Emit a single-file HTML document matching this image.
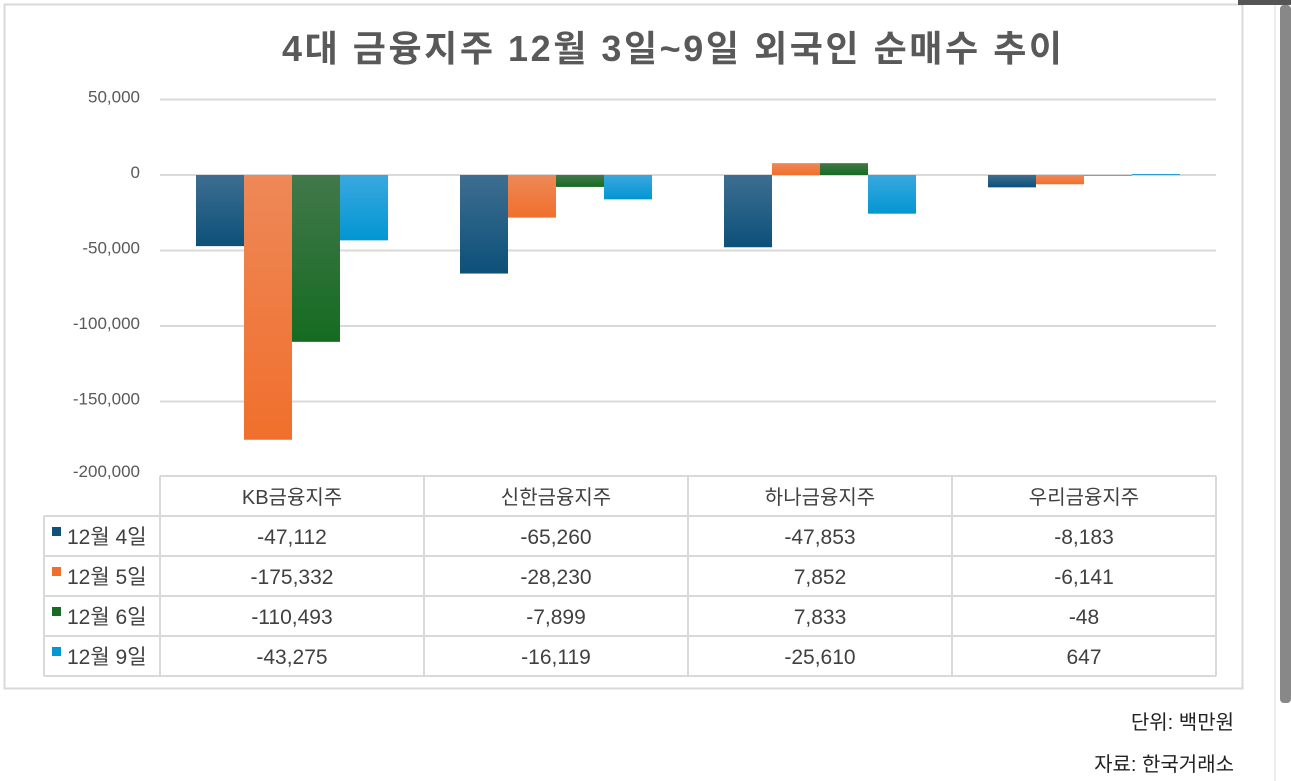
<!DOCTYPE html>
<html><head><meta charset="utf-8"><style>
html,body{margin:0;padding:0;background:#fff;width:1291px;height:781px;overflow:hidden;font-family:"Liberation Sans","Noto Sans CJK KR",sans-serif;}
</style></head><body>
<svg width="1291" height="781" xmlns="http://www.w3.org/2000/svg" style="position:absolute;left:0;top:0">
<defs>
<linearGradient id="g0" x1="0" y1="0" x2="0" y2="1"><stop offset="0" stop-color="#3d6e90"/><stop offset="1" stop-color="#0d5079"/></linearGradient>
<linearGradient id="g1" x1="0" y1="0" x2="0" y2="1"><stop offset="0" stop-color="#ee8858"/><stop offset="1" stop-color="#f06f2c"/></linearGradient>
<linearGradient id="g2" x1="0" y1="0" x2="0" y2="1"><stop offset="0" stop-color="#42784a"/><stop offset="1" stop-color="#156b22"/></linearGradient>
<linearGradient id="g3" x1="0" y1="0" x2="0" y2="1"><stop offset="0" stop-color="#3aa8df"/><stop offset="1" stop-color="#0296d2"/></linearGradient>
</defs>
<rect x="4.5" y="4.5" width="1238" height="684" fill="#fff" stroke="#d9d9d9" stroke-width="2"/>
<rect x="1238" y="0" width="53" height="5" fill="#555"/>
<line x1="1275" y1="5" x2="1275" y2="781" stroke="#ddd" stroke-width="1"/>
<rect x="1280" y="5" width="11" height="698" rx="4" fill="#888"/>
<text x="672" y="61" text-anchor="middle" font-size="36" font-weight="bold" fill="#595959" textLength="780" lengthAdjust="spacing">4대 금융지주 12월 3일~9일 외국인 순매수 추이</text>
<g id="grid"></g><g id="bars"></g><g id="table"></g>
<text x="1234" y="729" text-anchor="end" font-size="20" fill="#222">단위: 백만원</text>
<text x="1234" y="771" text-anchor="end" font-size="20" fill="#222">자료: 한국거래소</text>
</svg>
<script>
const categories=["KB금융지주","신한금융지주","하나금융지주","우리금융지주"];
const seriesNames=["12월 4일","12월 5일","12월 6일","12월 9일"];
const s4=[-47112,-65260,-47853,-8183];
const s5=[-175332,-28230,7852,-6141];
const s6=[-110493,-7899,7833,-48];
const s9=[-43275,-16119,-25610,647];
const yTicks=[50000,0,-50000,-100000,-150000,-200000];
const series=[s4,s5,s6,s9];
const colors=["#0d5079","#f06f2c","#156b22","#0296d2"];
const NS="http://www.w3.org/2000/svg";
const X0=160,X1=1216,Y0=175,PX=75.5/50000;
const y=v=>Y0-v*PX;
const cw=(X1-X0)/categories.length;
function mk(t,a,p){const e=document.createElementNS(NS,t);for(const k in a)e.setAttribute(k,a[k]);p.appendChild(e);return e;}
const fmt=v=>v.toLocaleString("en-US");
const grid=document.getElementById("grid");
yTicks.forEach(t=>{
  if(t>-200000){const l=mk("line",{x1:X0,x2:X1,y1:y(t),y2:y(t),stroke:"#d9d9d9","stroke-width":2},grid);
  
  }
  const tx=mk("text",{x:140,y:y(t)+(t===-200000?0:3),"text-anchor":"end","font-size":17,fill:"#595959"},grid);
  tx.textContent=fmt(t);
  
  
});
const bars=document.getElementById("bars");
const bw=48,gap=(cw-bw*4)/2;
categories.forEach((c,i)=>{
  series.forEach((s,j)=>{
    const v=s[i];const x=X0+i*cw+gap+j*bw;
    const top=Math.min(y(v),y(0)),h=Math.abs(y(v)-y(0));
    const r=mk("rect",{x:x,y:top,width:bw,height:Math.max(h,0.5),fill:"url(#g"+j+")"},bars);
    
    
  });
});
const tb=document.getElementById("table");
const TY=476,RH=40,LX=44;
const st={stroke:"#d9d9d9","stroke-width":2};
mk("line",Object.assign({x1:X0,x2:X1,y1:TY,y2:TY},st),tb);
for(let r=1;r<=5;r++) mk("line",Object.assign({x1:LX,x2:X1,y1:TY+r*RH,y2:TY+r*RH},st),tb);
mk("line",Object.assign({x1:LX,x2:LX,y1:TY+RH,y2:TY+5*RH},st),tb);
for(let i=0;i<=categories.length;i++) mk("line",Object.assign({x1:X0+i*cw,x2:X0+i*cw,y1:TY,y2:TY+5*RH},st),tb);
categories.forEach((c,i)=>{
  const t=mk("text",{x:X0+i*cw+cw/2,y:TY+28,"text-anchor":"middle","font-size":20,fill:"#404040"},tb);
  t.textContent=c;
  
  
});
seriesNames.forEach((n,j)=>{
  const ry=TY+(j+1)*RH;
  const sq=mk("rect",{x:52,y:ry+11,width:9,height:9,fill:colors[j]},tb);
  
  
  const t=mk("text",{x:67,y:ry+28,"font-size":21,fill:"#404040"},tb);
  t.textContent=n;
  
  
  series[j].forEach((v,i)=>{
    const c=mk("text",{x:X0+i*cw+cw/2,y:ry+28,"text-anchor":"middle","font-size":21,fill:"#404040"},tb);
    c.textContent=fmt(v);
    
    
  });
});
</script>
</body></html>
